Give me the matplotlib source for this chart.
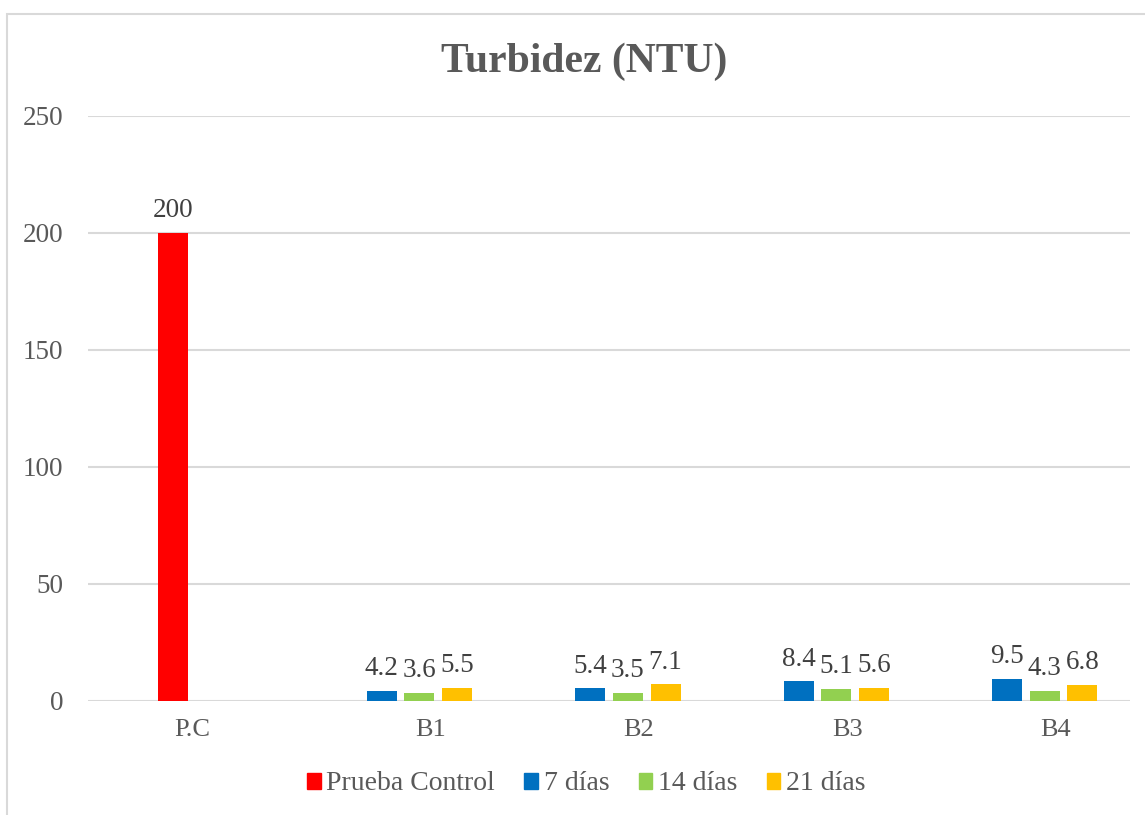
import numpy as np
import matplotlib
matplotlib.use("Agg")
from matplotlib import pyplot as plt
from matplotlib import transforms
from matplotlib.patches import Rectangle, Patch

categories = ["P.C", "B1", "B2", "B3", "B4"]
prueba_control = [200, np.nan, np.nan, np.nan, np.nan]
dias_7 = [np.nan, 4.2, 5.4, 8.4, 9.5]
dias_14 = [np.nan, 3.6, 3.5, 5.1, 4.3]
dias_21 = [np.nan, 5.5, 7.1, 5.6, 6.8]
y_ticks = [0, 50, 100, 150, 200, 250]

series = [
    ("Prueba Control", prueba_control, "#FF0000", -0.5),
    ("7 días", dias_7, "#0070C0", -0.5),
    ("14 días", dias_14, "#92D050", 0.5),
    ("21 días", dias_21, "#FFC000", 1.5),
]

plt.rcParams["font.family"] = ["Liberation Serif", "DejaVu Serif"]

fig = plt.figure(figsize=(11.45, 8.15), dpi=100)
ax = fig.add_axes([0.0769, 0.1399, 0.9100, 0.7178])

x = np.arange(len(categories))
slot = 0.181
width = 0.144

for name, vals, color, pos in series:
    vals = np.array(vals, dtype=float)
    xs = x + pos * slot
    ax.bar(xs, vals, width=width, color=color, zorder=3)
    for xi, v in zip(xs, vals):
        if np.isnan(v):
            continue
        ax.annotate(f"{v:g}", (xi, v), xytext=(0, 7), textcoords="offset points",
                    ha="center", va="bottom", fontsize=19.5, color="#404040")

ax.set_xlim(-0.5, len(categories) - 0.5)
ax.set_ylim(0, 250)
ax.set_yticks(y_ticks)
ax.set_xticks(x)
ax.set_xticklabels(categories)
ax.grid(axis="y", color="#D9D9D9", lw=1.5, zorder=0)
ax.tick_params(axis="y", length=0, pad=18, labelsize=19.5, labelcolor="#595959")
ax.tick_params(axis="x", length=0, pad=13, labelsize=19, labelcolor="#595959")
for s in ax.spines.values():
    s.set_visible(False)

# the B labels sit a bit right of their groups
shift = transforms.ScaledTranslation(0.30, 0, fig.dpi_scale_trans)
for lbl in ax.get_xticklabels()[1:]:
    lbl.set_transform(lbl.get_transform() + shift)

fig.text(0.510, 1 - 62 / 815, "Turbidez (NTU)", ha="center", va="center",
         fontsize=30, fontweight="bold", color="#595959")

handles = [Patch(color=c, label=n) for n, _, c, _ in series]
fig.legend(handles=handles, loc="center", bbox_to_anchor=(0.512, 1 - 784 / 815),
           ncol=4, frameon=False, fontsize=20, handlelength=0.5, handleheight=0.5,
           handletextpad=0.2, columnspacing=1.05, labelcolor="#595959")

# chart area border
fig.patches.append(Rectangle((7 / 1145, -0.05), 1.1, 0.05 + 1 - 14 / 815,
                             transform=fig.transFigure, fill=False,
                             edgecolor="#D9D9D9", lw=1.5))

fig.savefig("out.png", dpi=100)
